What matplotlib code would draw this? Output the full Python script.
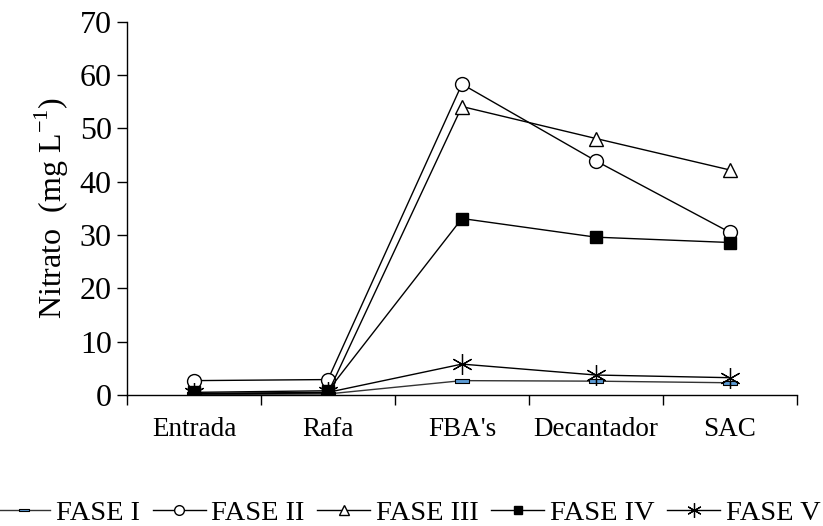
import matplotlib.pyplot as plt
import numpy as np
from matplotlib.path import Path

plt.rcParams['font.family'] = ['Liberation Serif', 'DejaVu Serif']
plt.rcParams['mathtext.fontset'] = 'custom'
plt.rcParams['mathtext.rm'] = 'Liberation Serif'

categories = ["Entrada", "Rafa", "FBA's", "Decantador", "SAC"]
fase1 = [0.1, 0.2, 2.7, 2.6, 2.3]
fase2 = [2.7, 2.9, 58.3, 43.9, 30.5]
fase3 = [0.2, 0.4, 54.1, 48.1, 42.2]
fase4 = [0.5, 0.8, 33.1, 29.6, 28.6]
fase5 = [0.3, 0.5, 5.8, 3.75, 3.25]

rect = Path([(-1, -0.25), (1, -0.25), (1, 0.25), (-1, 0.25), (-1, -0.25)],
            [Path.MOVETO, Path.LINETO, Path.LINETO, Path.LINETO, Path.CLOSEPOLY])

fig = plt.figure(figsize=(8.23, 5.26), dpi=100)
ax = fig.add_axes([0.1543, 0.249, 0.814, 0.7097])

x = np.arange(len(categories))
lw = 1.0
ax.plot(x, fase1, color='#333333', lw=lw, marker=rect, ms=10, mfc='#5B9BD5',
        mec='black', mew=0.8, label='FASE I')
ax.plot(x, fase2, color='black', lw=lw, marker='o', ms=10, mfc='white',
        mec='black', mew=1, label='FASE II')
ax.plot(x, fase3, color='black', lw=lw, marker='^', ms=10, mfc='white',
        mec='black', mew=1, label='FASE III')
ax.plot(x, fase4, color='black', lw=lw, marker='s', ms=8, mfc='black',
        mec='black', mew=1, label='FASE IV')
ax.plot(x, fase5, color='black', lw=lw, marker=(6, 2, 0), ms=15,
        mec='black', mew=0.9, label='FASE V')

ax.set_xlim(-0.5, 4.5)
ax.set_ylim(0, 70)
ax.set_yticks(np.arange(0, 71, 10))
ax.set_xticks(x)
ax.set_xticklabels(categories, fontsize=19.5)
ax.set_xticks(np.arange(-0.5, 4.6, 1), minor=True)
ax.tick_params(axis='x', which='major', length=0, pad=16)
ax.tick_params(axis='x', which='minor', direction='out', length=7, width=1)
ax.tick_params(axis='y', direction='out', length=7, width=1, labelsize=23, pad=4)
for s in ['top', 'right']:
    ax.spines[s].set_visible(False)
for s in ['left', 'bottom']:
    ax.spines[s].set_linewidth(1)

ax.set_ylabel('Nitrato  (mg L$^{\\mathrm{-1}}$)', fontsize=23, labelpad=6)

fig.legend(loc='center', bbox_to_anchor=(0.497, 0.025), ncol=5, frameon=False,
           fontsize=20.5, handlelength=1.85, handletextpad=0.2,
           columnspacing=0.45, markerscale=0.7, borderaxespad=0)

fig.savefig('out.png', dpi=100)
